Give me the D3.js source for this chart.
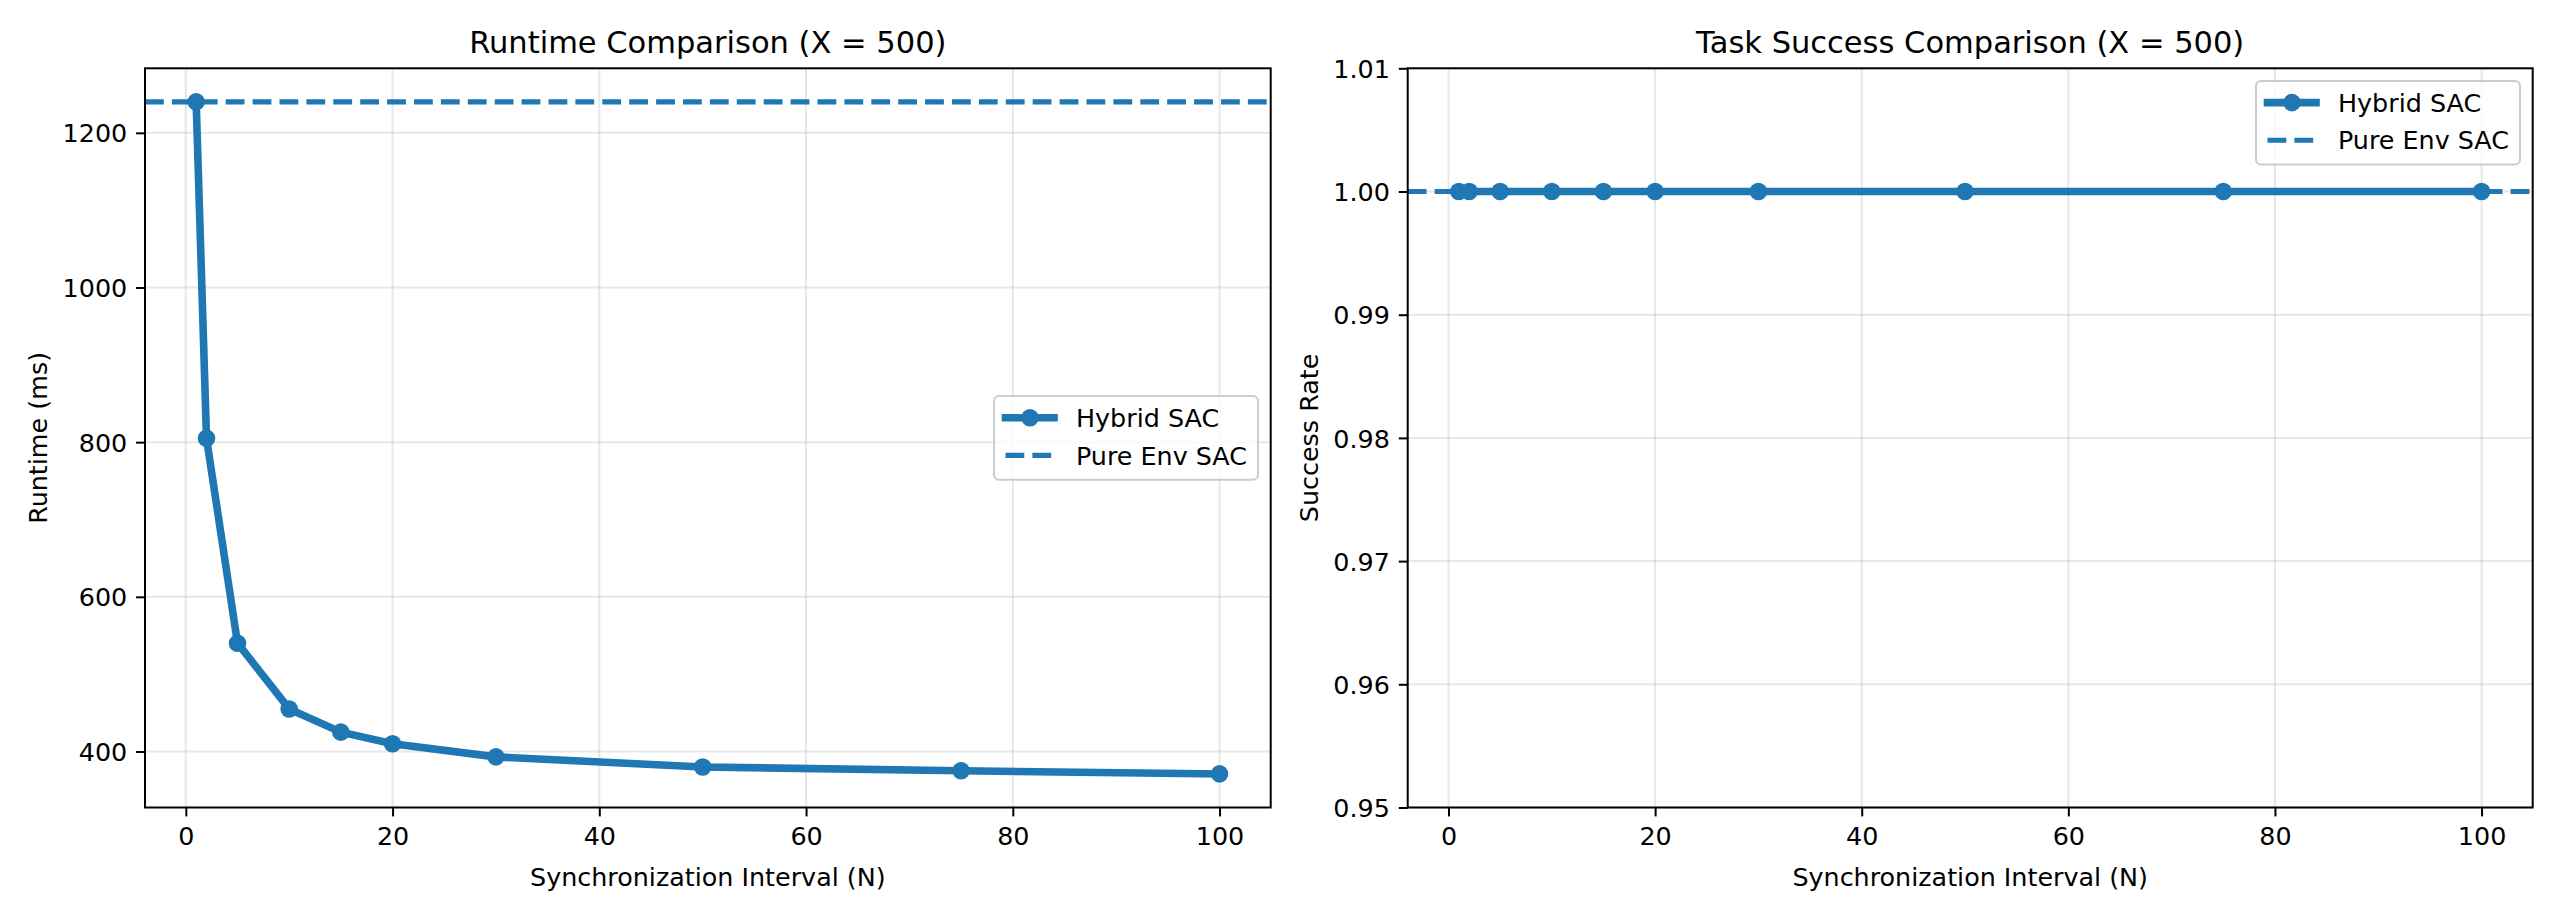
<!DOCTYPE html>
<html>
<head>
<meta charset="utf-8">
<script src="https://cdn.jsdelivr.net/npm/d3@7"></script>
<style>
  body { margin: 0; background: #fff; }
  text { font-family: "DejaVu Sans", sans-serif; fill: #000; }
</style>
</head>
<body>
<svg id="fig" width="2560" height="914"></svg>
<script>
// data
var intervals = [1, 2, 5, 10, 15, 20, 30, 50, 75, 100];
var hybridRuntime = [1240, 805, 540, 455, 425, 410, 393, 380, 375, 371];
var pureRuntime = 1240;
var hybridSuccess = [1, 1, 1, 1, 1, 1, 1, 1, 1, 1];
var pureSuccess = 1.0;
var xTicks = [0, 20, 40, 60, 80, 100];
var runtimeTicks = [400, 600, 800, 1000, 1200];
var successTicks = [0.95, 0.96, 0.97, 0.98, 0.99, 1.00, 1.01];
var legendLabels = ["Hybrid SAC", "Pure Env SAC"];

var blue = "#1f77b4";
var svg = d3.select("#fig");
var axTop = 68.3, axBottom = 807.5;
var fs = 25.4, titleFs = 30.5;   // 10pt / 12pt at ~183 dpi

function panel(opts) {
  var g = svg.append("g");
  var x = d3.scaleLinear().domain([-3.95, 104.95]).range([opts.left, opts.right]);
  var y = d3.scaleLinear().domain(opts.ydom).range([axBottom, axTop]);

  // grid
  g.selectAll(".gx").data(xTicks).enter().append("line")
    .attr("x1", d => x(d)).attr("x2", d => x(d))
    .attr("y1", axTop).attr("y2", axBottom)
    .attr("stroke", "#b0b0b0").attr("stroke-opacity", 0.3).attr("stroke-width", 2);
  g.selectAll(".gy").data(opts.yticks).enter().append("line")
    .attr("x1", opts.left).attr("x2", opts.right)
    .attr("y1", d => y(d)).attr("y2", d => y(d))
    .attr("stroke", "#b0b0b0").attr("stroke-opacity", 0.3).attr("stroke-width", 2);

  // hybrid line + markers
  var pts = intervals.map((v, i) => [v, opts.values[i]]);
  g.append("path")
    .attr("d", d3.line().x(d => x(d[0])).y(d => y(d[1]))(pts))
    .attr("fill", "none").attr("stroke", blue).attr("stroke-width", 7.6)
    .attr("stroke-linejoin", "round").attr("stroke-linecap", "square");
  g.selectAll(".pt").data(pts).enter().append("circle")
    .attr("cx", d => x(d[0])).attr("cy", d => y(d[1])).attr("r", 8.8)
    .attr("fill", blue);

  // pure env reference line
  g.append("line")
    .attr("x1", opts.left).attr("x2", opts.right)
    .attr("y1", y(opts.pure)).attr("y2", y(opts.pure))
    .attr("stroke", blue).attr("stroke-width", 5.1).attr("stroke-dasharray", "18.8,8.1");

  // axes
  var xAxis = d3.axisBottom(x).tickValues(xTicks).tickSize(8.9).tickPadding(8.9).tickFormat(d3.format("d"));
  var gx = g.append("g").attr("transform", "translate(0," + axBottom + ")").call(xAxis);
  var yAxis = d3.axisLeft(y).tickValues(opts.yticks).tickSize(8.9).tickPadding(8.9).tickFormat(opts.fmt);
  var gy = g.append("g").attr("transform", "translate(" + opts.left + ",0)").call(yAxis);
  [gx, gy].forEach(a => {
    a.select(".domain").remove();
    a.selectAll(".tick line").attr("stroke", "#000").attr("stroke-width", 2);
    a.selectAll(".tick text").attr("font-size", fs).attr("font-family", "DejaVu Sans").attr("fill", "#000");
  });
  gx.selectAll(".tick text").attr("dy", null).attr("y", 37.8);
  gy.selectAll(".tick text").attr("dy", "0.36em");

  // spines
  g.append("rect").attr("x", opts.left).attr("y", axTop)
    .attr("width", opts.right - opts.left).attr("height", axBottom - axTop)
    .attr("fill", "none").attr("stroke", "#000").attr("stroke-width", 2);

  // labels
  var cx = (opts.left + opts.right) / 2;
  g.append("text").attr("x", cx).attr("y", 53.3).attr("text-anchor", "middle")
    .attr("font-size", titleFs).text(opts.title);
  g.append("text").attr("x", cx).attr("y", 886).attr("text-anchor", "middle")
    .attr("font-size", fs).text("Synchronization Interval (N)");
  g.append("text").attr("transform", "translate(" + opts.ylabelX + "," + ((axTop + axBottom) / 2) + ") rotate(-90)")
    .attr("text-anchor", "middle").attr("font-size", fs).text(opts.ylabel);

  // legend
  var lw = 264, lh = 83.6;
  var lx = opts.right - 12.7 - lw;
  var ly = opts.legendPos === "center right" ? (axTop + axBottom) / 2 - lh / 2 : axTop + 12.7;
  var lg = g.append("g").attr("transform", "translate(" + lx + "," + ly + ")");
  lg.append("rect").attr("width", lw).attr("height", lh).attr("rx", 5)
    .attr("fill", "#fff").attr("fill-opacity", 0.8)
    .attr("stroke", "#ccc").attr("stroke-width", 2);
  legendLabels.forEach(function (name, i) {
    var ry = 21.6 + i * 37.7;
    var row = lg.append("g").attr("transform", "translate(0," + ry + ")");
    if (i === 0) {
      row.append("line").attr("x1", 11.5).attr("x2", 60).attr("stroke", blue)
        .attr("stroke-width", 7.6).attr("stroke-linecap", "square");
      row.append("circle").attr("cx", 36).attr("r", 8.8).attr("fill", blue);
    } else {
      row.append("line").attr("x1", 11.5).attr("x2", 60).attr("stroke", blue)
        .attr("stroke-width", 5.1).attr("stroke-dasharray", "18.8,8.1");
    }
    row.append("text").attr("x", 82).attr("dy", "0.36em").attr("font-size", fs).text(name);
  });
}

panel({
  left: 145, right: 1270.7,
  ydom: [327.55, 1283.45], yticks: runtimeTicks, fmt: d3.format("d"),
  values: hybridRuntime, pure: pureRuntime,
  title: "Runtime Comparison (X = 500)", ylabel: "Runtime (ms)", ylabelX: 46.5,
  legendPos: "center right"
});
panel({
  left: 1407.7, right: 2532.7,
  ydom: [0.95, 1.01], yticks: successTicks, fmt: d3.format(".2f"),
  values: hybridSuccess, pure: pureSuccess,
  title: "Task Success Comparison (X = 500)", ylabel: "Success Rate", ylabelX: 1318,
  legendPos: "upper right"
});
</script>
</body>
</html>
